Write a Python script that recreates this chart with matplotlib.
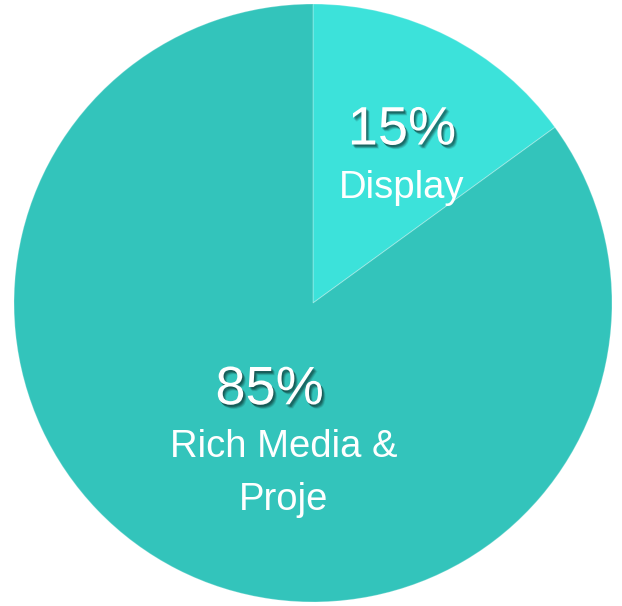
import numpy as np
import matplotlib
matplotlib.use("Agg")
import matplotlib.pyplot as plt
import matplotlib.patheffects as pe

categories = ["Display", "Rich Media &\nProje"]
shares = [15, 85]
colors = ["#3ce2da", "#33c4bb"]

W, H = 622, 606
fig = plt.figure(figsize=(W / 100, H / 100), dpi=100)
ax = fig.add_axes([0, 0, 1, 1])
ax.set_axis_off()

cx, cy, R = 313, 303, 299
wedges, _ = ax.pie(shares, colors=colors, startangle=90, counterclock=False,
                   center=(cx, cy), radius=R,
                   wedgeprops=dict(linewidth=0.8, edgecolor=(1, 1, 1, 0.25)))
ax.set_xlim(0, W)
ax.set_ylim(0, H)
ax.set_aspect("auto")

# soft drop shadow built from a few faint offset copies
shadow = [pe.SimplePatchShadow(offset=(ox, oy), shadow_rgbFace="black", alpha=a)
          for ox, oy, a in [(2.5, -3.0, 0.10), (2.0, -2.5, 0.14), (1.5, -2.0, 0.18),
                            (1.0, -1.5, 0.18), (0.5, -1.0, 0.12)]]
shadow.append(pe.Normal())
font = "Liberation Sans"

# label placement along each wedge's bisector (fraction of radius)
radial = [0.655, 0.32]
name_dx = [0, 14]
line_gap = 53
for w, name, val, rf, dx in zip(wedges, categories, shares, radial, name_dx):
    mid = np.deg2rad((w.theta1 + w.theta2) / 2)
    x = cx + rf * R * np.cos(mid)
    y = cy + rf * R * np.sin(mid)
    ax.text(x, y - 16, f"{val}%", ha="center", va="baseline", fontsize=39,
            color="white", family=font, path_effects=shadow)
    for i, line in enumerate(name.split("\n")):
        ax.text(x + dx, y - 69 - i * line_gap, line, ha="center", va="baseline",
                fontsize=27.5, color="white", family=font)

fig.savefig("out.png", dpi=100)
